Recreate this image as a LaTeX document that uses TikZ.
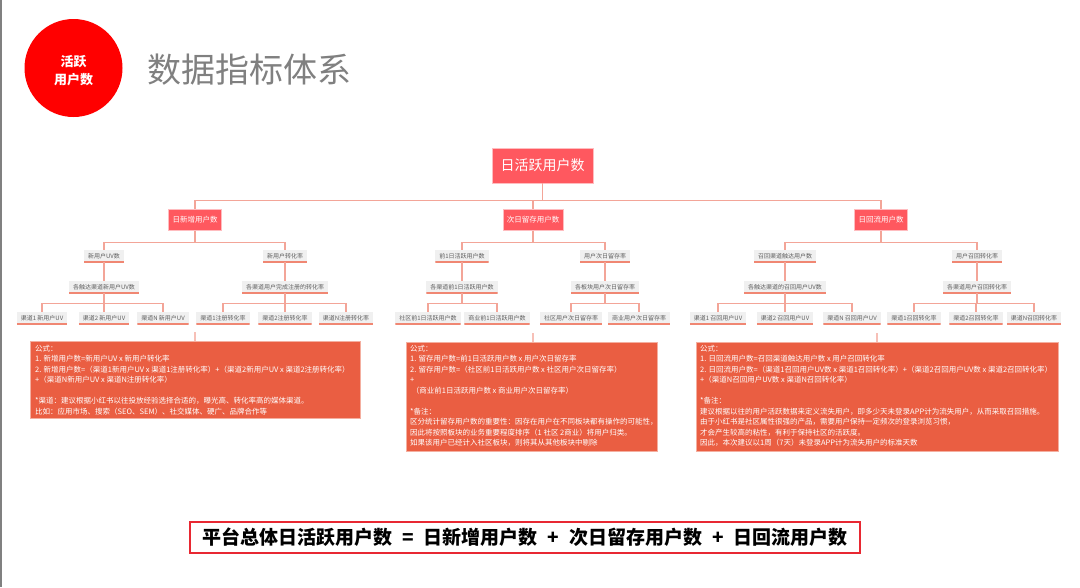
\documentclass[tikz,border=0pt]{standalone}
\usepackage{fontspec}
\setmainfont{Noto Sans CJK SC}
\definecolor{nred}{RGB}{255,88,95}
\definecolor{boxred}{RGB}{234,94,66}
\definecolor{lnk}{RGB}{243,165,152}
\definecolor{gfill}{RGB}{240,240,240}
\definecolor{gtext}{RGB}{95,95,95}
\definecolor{uline}{RGB}{240,135,115}
\definecolor{titlegray}{RGB}{128,128,128}
\definecolor{fred}{RGB}{232,40,50}
\tikzset{
 conn/.style={draw=lnk, line width=1.1pt},
 topnode/.style={fill=nred, draw=nred!40, line width=0.6pt, text=white, font=\fontsize{14}{14}\selectfont, minimum width=101pt, minimum height=35pt, inner sep=0},
 lvone/.style={fill=nred, draw=nred!40, line width=0.5pt, text=white, font=\fontsize{7.5}{7.5}\selectfont, minimum height=21pt, inner xsep=4pt, inner ysep=0},
 gnode/.style={fill=gfill, text=gtext, font=\fontsize{6}{6}\selectfont, minimum height=12pt, inner xsep=4pt, inner ysep=0, path picture={\draw[uline, line width=2.4pt] (path picture bounding box.south west) -- (path picture bounding box.south east);}},
 notebox/.style={fill=boxred, draw=boxred!50!white, line width=0.6pt, anchor=north west, inner sep=0},
 notetext/.style={text=white, font=\fontsize{7.5}{10.5}\selectfont, align=left, anchor=north west, inner sep=0},
}
\begin{document}
\begin{tikzpicture}[x=1pt,y=-1pt]
\useasboundingbox (0,0) rectangle (1080,587);
\fill[white] (0,0) rectangle (1080,587);
\draw[gray, line width=1.5pt] (0.75,0) -- (0.75,587);

% header
\node[circle, fill=red, minimum size=98pt, inner sep=0] (logo) at (73.5,68) {};
\node[text=white, font=\bfseries\fontsize{13}{18}\selectfont, align=center, inner sep=0] (logot) at (73.5,71) {活跃\\用户数};
\node[anchor=west, text=titlegray, font=\fontsize{34}{34}\selectfont, inner sep=0] (title) at (147,70) {数据指标体系};

% top levels
\node[topnode] (T) at (542.5,165.5) {日活跃用户数};
\node[lvone] (A) at (195,220) {日新增用户数};
\node[lvone] (B) at (533,220) {次日留存用户数};
\node[lvone] (C) at (881,220) {日回流用户数};

% left tree
\node[gnode] (A1) at (104,256) {新用户UV数};
\node[gnode] (A2) at (285,256) {新用户转化率};
\node[gnode] (A1a) at (104,287) {各触达渠道新用户UV数};
\node[gnode] (A2a) at (285,287) {各渠道用户完成注册的转化率};
\node[gnode] (A1x) at (42,318) {渠道1 新用户UV};
\node[gnode] (A1y) at (104,318) {渠道2 新用户UV};
\node[gnode] (A1z) at (163,318) {渠道N 新用户UV};
\node[gnode] (A2x) at (223,318) {渠道1注册转化率};
\node[gnode] (A2y) at (285,318) {渠道2注册转化率};
\node[gnode] (A2z) at (346,318) {渠道N注册转化率};

% middle tree
\node[gnode] (B1) at (462,256) {前1日活跃用户数};
\node[gnode] (B2) at (605,256) {用户次日留存率};
\node[gnode] (B1a) at (462,287) {各渠道前1日活跃用户数};
\node[gnode] (B2a) at (605,287) {各板块用户次日留存率};
\node[gnode] (B1x) at (428,318) {社区前1日活跃用户数};
\node[gnode] (B1y) at (497,318) {商业前1日活跃用户数};
\node[gnode] (B2x) at (571,318) {社区用户次日留存率};
\node[gnode] (B2y) at (639,318) {商业用户次日留存率};

% right tree
\node[gnode] (C1) at (785,256) {召回渠道触达用户数};
\node[gnode] (C2) at (977,256) {用户召回转化率};
\node[gnode] (C1a) at (785,287) {各触达渠道的召回用户UV数};
\node[gnode] (C2a) at (977,287) {各渠道用户召回转化率};
\node[gnode] (C1x) at (718,318) {渠道1 召回用户UV};
\node[gnode] (C1y) at (785,318) {渠道2 召回用户UV};
\node[gnode] (C1z) at (852,318) {渠道N 召回用户UV};
\node[gnode] (C2x) at (914,318) {渠道1召回转化率};
\node[gnode] (C2y) at (976,318) {渠道2召回转化率};
\node[gnode] (C2z) at (1034,318) {渠道N召回转化率};

% connectors
\foreach \n in {A,B,C} \draw[conn] (T.south) -- ++(0,17) -| (\n.north);
\foreach \p/\c in {A/A1,A/A2,B/B1,B/B2,C/C1,C/C2} \draw[conn] (\p.south) -- ++(0,12) -| (\c.north);
\foreach \p/\c in {A1/A1a,A2/A2a,B1/B1a,B2/B2a,C1/C1a,C2/C2a} \draw[conn] (\p) -- (\c);
\foreach \p/\c in {A1a/A1x,A1a/A1y,A1a/A1z,A2a/A2x,A2a/A2y,A2a/A2z,B1a/B1x,B1a/B1y,B2a/B2x,B2a/B2y,C1a/C1x,C1a/C1y,C1a/C1z,C2a/C2x,C2a/C2y,C2a/C2z} \draw[conn] (\p.south) -- ++(0,10) -| (\c.north);

% note boxes
\node[notebox, minimum width=330pt, minimum height=77pt] (NA) at (30,341) {};
\node[notebox, minimum width=251pt, minimum height=109pt] (NB) at (406,342) {};
\node[notebox, minimum width=362pt, minimum height=109pt] (NC) at (696,342) {};

\coordinate (ta) at (195,332);
\coordinate (tb) at (533,333);
\coordinate (tc) at (877,333);
\draw[conn, draw=lnk!70] (ta) -- (ta |- NA.north);
\draw[conn, draw=lnk!70] (tb) -- (tb |- NB.north);
\draw[conn, draw=lnk!70] (tc) -- (tc |- NC.north);

\node[notetext] (NAt) at (35,345) {公式：\\
1. 新增用户数=新用户UV x 新用户转化率\\
2. 新增用户数=（渠道1新用户UV x 渠道1注册转化率）+（渠道2新用户UV x 渠道2注册转化率）\\
+（渠道N新用户UV x 渠道N注册转化率）\\[10.5pt]
*渠道：建议根据小红书以往投放经验选择合适的，曝光高、转化率高的媒体渠道。\\
比如：应用市场、搜索（SEO、SEM）、社交媒体、硬广、品牌合作等};

\node[notetext] (NBt) at (410,345) {公式：\\
1. 留存用户数=前1日活跃用户数 x 用户次日留存率\\
2. 留存用户数=（社区前1日活跃用户数 x 社区用户次日留存率）\\
+\\
\ （商业前1日活跃用户数 x 商业用户次日留存率）\\[10.5pt]
*备注：\\
区分统计留存用户数的重要性：因存在用户在不同板块都有操作的可能性，\\
因此将按照板块的业务重要程度排序（1 社区 2商业）将用户归类。\\
如果该用户已经计入社区板块，则将其从其他板块中剔除};

\node[notetext] (NCt) at (700,345) {公式：\\
1. 日回流用户数=召回渠道触达用户数 x 用户召回转化率\\
2. 日回流用户数=（渠道1召回用户UV数 x 渠道1召回转化率）+（渠道2召回用户UV数 x 渠道2召回转化率）\\
+（渠道N召回用户UV数 x 渠道N召回转化率）\\[10.5pt]
*备注：\\
建议根据以往的用户活跃数据来定义流失用户，即多少天未登录APP计为流失用户，从而采取召回措施。\\
由于小红书是社区属性很强的产品，需要用户保持一定频次的登录浏览习惯，\\
才会产生较高的粘性，有利于保持社区的活跃度。\\
因此，本次建议以1周（7天）未登录APP计为流失用户的标准天数};

% bottom formula
\node[draw=fred, line width=1.5pt, minimum width=670pt, minimum height=31pt, font=\bfseries\fontsize{19}{19}\selectfont, inner sep=0] (F) at (525,537.5) {平台总体日活跃用户数\hspace{10pt}=\hspace{10pt}日新增用户数\hspace{10pt}+\hspace{10pt}次日留存用户数\hspace{10pt}+\hspace{10pt}日回流用户数};
\end{tikzpicture}
\end{document}
